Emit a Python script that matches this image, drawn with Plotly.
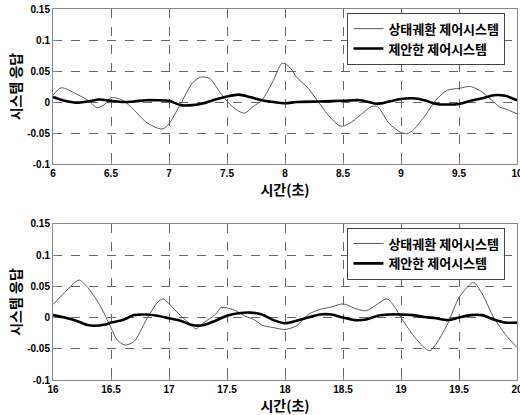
import plotly.graph_objects as go

# ---- top panel data (6 ~ 10 s) ----
t1_thin = [6.0, 6.07, 6.2, 6.3, 6.38, 6.45, 6.5, 6.6, 6.7, 6.8, 6.9, 6.95, 7.0, 7.1, 7.2, 7.27, 7.35, 7.45, 7.55, 7.65, 7.72,
           7.8, 7.9, 7.97, 8.0, 8.05, 8.1, 8.2, 8.3, 8.4, 8.48, 8.55, 8.65, 8.75, 8.8, 8.9, 9.0, 9.05, 9.1, 9.2, 9.3, 9.4,
           9.5, 9.6, 9.7, 9.8, 9.85, 9.9, 10.0]
y1_thin = [0.011, 0.023, 0.013, 0.003, -0.009, -0.003, 0.007, 0.003, -0.013, -0.032, -0.042, -0.043, -0.035, -0.003, 0.030,
           0.040, 0.038, 0.013, -0.008, -0.018, -0.008, 0.003, 0.035, 0.062, 0.062, 0.054, 0.040, 0.022, -0.003, -0.027,
           -0.039, -0.035, -0.021, -0.007, -0.008, -0.035, -0.049, -0.051, -0.046, -0.024, 0.003, 0.019, 0.022, 0.025,
           0.016, 0.0, -0.008, -0.011, -0.019]
t1_thick = [6.0, 6.1, 6.2, 6.3, 6.4, 6.5, 6.6, 6.7, 6.8, 6.9, 7.0, 7.1, 7.2, 7.3, 7.4, 7.5, 7.6, 7.7, 7.8, 7.9, 8.0, 8.1,
            8.3, 8.5, 8.65, 8.8, 8.9, 9.0, 9.1, 9.2, 9.3, 9.4, 9.5, 9.6, 9.7, 9.8, 9.9, 10.0]
y1_thick = [0.008, 0.002, -0.001, 0.001, 0.004, 0.002, 0.0, 0.001, 0.003, 0.003, 0.002, -0.005, -0.005, -0.002, 0.004,
            0.009, 0.012, 0.008, 0.003, 0.0, -0.002, 0.0, 0.001, 0.002, 0.003, -0.003, 0.001, 0.005, 0.006, 0.003,
            -0.003, -0.004, -0.003, 0.002, 0.006, 0.011, 0.010, 0.003]

# ---- bottom panel data (16 ~ 20 s) ----
t2_thin = [16.0, 16.1, 16.2, 16.23, 16.3, 16.4, 16.5, 16.55, 16.62, 16.7, 16.8, 16.9, 16.95, 17.0, 17.1, 17.2, 17.23, 17.3,
           17.4, 17.45, 17.55, 17.65, 17.75, 17.8, 17.9, 18.0, 18.1, 18.2, 18.3, 18.4, 18.5, 18.6, 18.7, 18.8, 18.88,
           18.95, 19.0, 19.1, 19.2, 19.25, 19.3, 19.4, 19.5, 19.6, 19.63, 19.7, 19.8, 19.9, 20.0]
y2_thin = [0.021, 0.040, 0.058, 0.060, 0.048, 0.021, -0.016, -0.035, -0.044, -0.038, -0.005, 0.024, 0.030, 0.022, 0.003,
           -0.013, -0.018, -0.008, 0.005, 0.016, 0.013, 0.003, -0.005, -0.012, -0.016, -0.019, -0.013, 0.005, 0.013,
           0.017, 0.022, 0.015, 0.011, 0.022, 0.030, 0.016, 0.0, -0.027, -0.048, -0.053, -0.043, -0.011, 0.032, 0.054,
           0.056, 0.038, 0.0, -0.027, -0.048]
t2_thick = [16.0, 16.1, 16.2, 16.3, 16.35, 16.45, 16.5, 16.6, 16.7, 16.8, 16.9, 17.0, 17.1, 17.2, 17.3, 17.4, 17.5, 17.6,
            17.7, 17.8, 17.9, 18.0, 18.1, 18.2, 18.3, 18.4, 18.5, 18.6, 18.7, 18.8, 18.9, 19.0, 19.1, 19.2, 19.3, 19.4,
            19.5, 19.6, 19.7, 19.8, 19.9, 20.0]
y2_thick = [0.004, 0.0, -0.005, -0.012, -0.013, -0.011, -0.008, -0.004, 0.004, 0.005, 0.003, -0.001, -0.005, -0.012,
            -0.012, -0.005, 0.003, 0.007, 0.008, 0.005, -0.004, -0.009, -0.005, 0.0, 0.005, 0.005, 0.0, -0.004, -0.003,
            0.003, 0.005, 0.005, 0.004, 0.001, -0.001, -0.004, 0.0, 0.004, 0.004, -0.003, -0.008, -0.008]

series_names = ["상태궤환 제어시스템", "제안한 제어시스템"]
y_title = "시스템 응답"
x_title = "시간(초)"
y_ticks = [-0.1, -0.05, 0, 0.05, 0.1, 0.15]
y_ticktext = ["-0.1", "-0.05", "0", "0.05", "0.1", "0.15"]
x1_ticks = [6, 6.5, 7, 7.5, 8, 8.5, 9, 9.5, 10]
x2_ticks = [16, 16.5, 17, 17.5, 18, 18.5, 19, 19.5, 20]

FONT = "Liberation Sans, Arial, Noto Sans CJK KR, sans-serif"
KFONT = "Noto Sans CJK KR, Liberation Sans, sans-serif"

fig = go.Figure()
fig.add_trace(go.Scatter(x=t1_thin, y=y1_thin, mode="lines",
                         line=dict(color="#5a5a5a", width=1, shape="spline", smoothing=0.8),
                         name=series_names[0], xaxis="x", yaxis="y", legend="legend"))
fig.add_trace(go.Scatter(x=t1_thick, y=y1_thick, mode="lines",
                         line=dict(color="black", width=2.6, shape="spline", smoothing=0.8),
                         name=series_names[1], xaxis="x", yaxis="y", legend="legend"))
fig.add_trace(go.Scatter(x=t2_thin, y=y2_thin, mode="lines",
                         line=dict(color="#5a5a5a", width=1, shape="spline", smoothing=0.8),
                         name=series_names[0], xaxis="x2", yaxis="y2", legend="legend2"))
fig.add_trace(go.Scatter(x=t2_thick, y=y2_thick, mode="lines",
                         line=dict(color="black", width=2.6, shape="spline", smoothing=0.8),
                         name=series_names[1], xaxis="x2", yaxis="y2", legend="legend2"))

tickfont = dict(family=FONT, size=10, color="black", weight="bold")
titlefont = dict(family=KFONT, size=14, color="black", weight="bold")

def xax(rng, ticks, anchor):
    return dict(range=rng, tickvals=ticks, ticktext=[("%g" % v) for v in ticks], anchor=anchor,
                showgrid=True, gridcolor="#666666", griddash="dash", gridwidth=1,
                showline=True, linecolor="#888888", linewidth=1, mirror=True,
                ticks="inside", ticklen=4, tickcolor="#888888", tickfont=tickfont,
                ticklabeloverflow="allow", automargin=False,
                zeroline=False, title=dict(text=x_title, font=titlefont, standoff=0))

def yax(domain, anchor):
    return dict(domain=domain, range=[-0.1, 0.15], tickvals=y_ticks, ticktext=y_ticktext, anchor=anchor,
                showgrid=True, gridcolor="#666666", griddash="dash", gridwidth=1,
                showline=True, linecolor="#888888", linewidth=1, mirror=True,
                ticks="inside", ticklen=4, tickcolor="#888888", tickfont=tickfont,
                ticklabeloverflow="allow", automargin=False,
                zeroline=False, title=dict(text=y_title, font=titlefont, standoff=2))

legstyle = dict(bgcolor="white", bordercolor="#444444", borderwidth=1,
                font=dict(family=KFONT, size=13, color="black", weight="bold"),
                xanchor="right", yanchor="top", tracegroupgap=0, itemwidth=30)

fig.update_layout(
    width=520, height=415,
    margin=dict(l=53, r=3, t=9, b=35, autoexpand=False),
    paper_bgcolor="white", plot_bgcolor="white",
    xaxis=xax([6, 10], x1_ticks, "y"),
    yaxis=yax([0.582, 1.0], "x"),
    xaxis2=xax([16, 20], x2_ticks, "y2"),
    yaxis2=yax([0.0, 0.4205], "x2"),
    legend=dict(x=0.975, y=0.99, **legstyle),
    legend2=dict(x=0.975, y=0.411, **legstyle),
)

fig.write_html("out.html", config={"displayModeBar": False},
               post_script="document.body.style.margin='0';document.body.style.overflow='hidden';")
